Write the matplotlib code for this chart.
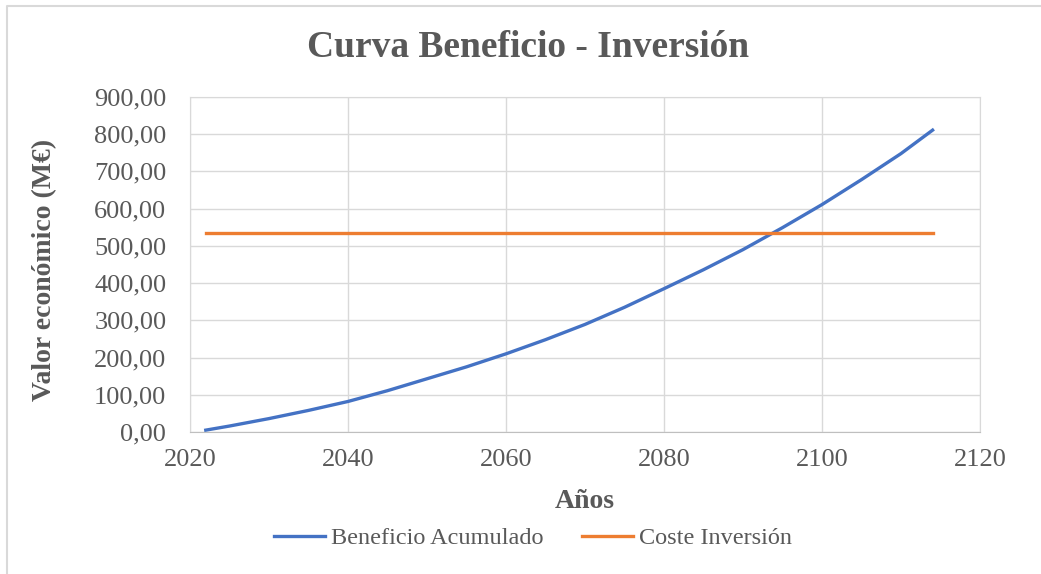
import matplotlib.pyplot as plt
from matplotlib.lines import Line2D
from matplotlib.ticker import FuncFormatter

plt.rcParams['font.family'] = ['Liberation Serif', 'DejaVu Serif']

# datos
anios = [2022, 2025, 2030, 2035, 2040, 2045, 2050, 2055, 2060, 2065,
         2070, 2075, 2080, 2085, 2090, 2095, 2100, 2105, 2110, 2114]
beneficio = [5, 16, 36, 58, 82, 111, 143, 175, 210, 248,
             289, 335, 385, 436, 490, 549, 611, 678, 748, 811]
coste = [535] * len(anios)

gris = '#595959'

fig = plt.figure(figsize=(10.41, 5.74), dpi=100)
# borde del area del grafico (solo arriba e izquierda visibles)
fig.lines.append(Line2D([0.007, 0.007, 1.0], [0.0, 0.989, 0.989], transform=fig.transFigure,
                        color='#d9d9d9', linewidth=1.5))
ax = fig.add_axes([0.1825, 0.2474, 0.7589, 0.5836])

ax.plot(anios, beneficio, color='#4472c4', linewidth=2.4, label='Beneficio Acumulado')
ax.plot(anios, coste, color='#ed7d31', linewidth=2.4, label='Coste Inversión')

ax.set_xlim(2020, 2120)
ax.set_ylim(0, 900)
ax.set_xticks(range(2020, 2121, 20))
ax.set_yticks(range(0, 901, 100))
ax.yaxis.set_major_formatter(FuncFormatter(lambda v, p: f'{v:.2f}'.replace('.', ',')))
ax.grid(True, color='#d9d9d9', linewidth=1)
ax.set_axisbelow(True)
for s in ax.spines.values():
    s.set_color('#d9d9d9')
ax.spines['bottom'].set_color('#bfbfbf')
ax.tick_params(axis='both', length=0, labelsize=19, labelcolor=gris)
ax.tick_params(axis='y', pad=17)
ax.tick_params(axis='x', pad=12)

fig.text(0.507, 0.918, 'Curva Beneficio - Inversión', fontsize=27, fontweight='bold',
         color=gris, ha='center', va='center')
ax.set_xlabel('Años', fontsize=20, fontweight='bold', color=gris)
ax.set_ylabel('Valor económico (M€)', fontsize=20, fontweight='bold', color=gris, va='center')
ax.xaxis.set_label_coords(0.5, -0.17)
ax.yaxis.set_label_coords(-0.1835, 0.484)

leg = fig.legend(loc='center', bbox_to_anchor=(0.512, 0.062), ncol=2, frameon=False,
                 fontsize=17.5, handlelength=2.1, columnspacing=1.6, handletextpad=0.25)
for t in leg.get_texts():
    t.set_color(gris)

fig.savefig('out.png', dpi=100)
